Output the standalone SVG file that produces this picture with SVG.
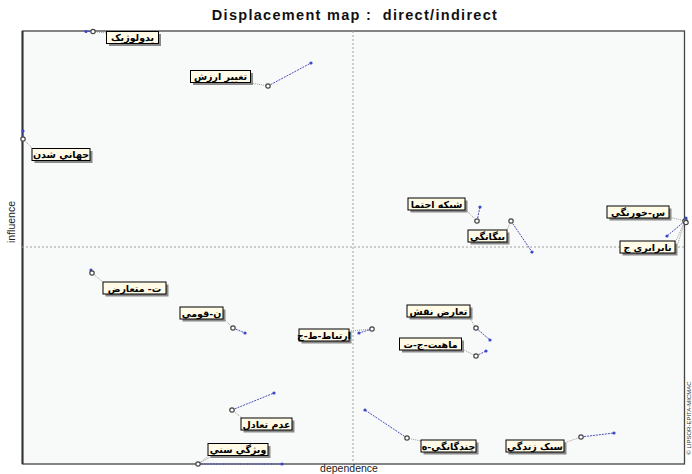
<svg xmlns="http://www.w3.org/2000/svg" width="692" height="474" viewBox="0 0 692 474">
<style>
.title{font-family:"Liberation Sans",Arial,sans-serif;font-size:14.5px;font-weight:bold;fill:#111;letter-spacing:1.3px;white-space:pre}
.axis{font-family:"Liberation Sans",Arial,sans-serif;font-size:10.5px;fill:#222}
.copy{font-family:"Liberation Sans",Arial,sans-serif;font-size:6px;fill:#333}
.lbl{font-family:"DejaVu Sans","Noto Sans",sans-serif;font-size:9.5px;font-weight:bold;fill:#000;text-anchor:middle;direction:rtl}
.box{fill:#fffbe6;stroke:#000;stroke-width:1}
.sh{fill:#8a8a8a}
.mv{stroke:#4a4fc0;stroke-width:1;stroke-dasharray:2,1;fill:none}
.ld{stroke:#9a9a9a;stroke-width:1;stroke-dasharray:1,1;fill:none}
.pt{fill:#fff;stroke:#444;stroke-width:1.2}
.dt{fill:#3b46c8}
.grid{stroke:#a0a0a0;stroke-width:1;stroke-dasharray:2,2;fill:none}
</style>
<rect x="0" y="0" width="692" height="474" fill="#ffffff"/>
<text class="title" x="355" y="20" text-anchor="middle" xml:space="preserve">Displacement map :  direct/indirect</text>
<rect x="22.5" y="31" width="662" height="433" fill="#f8f9f9" stroke="#444" stroke-width="1.3"/>
<line x1="22.5" y1="31" x2="22.5" y2="464" stroke="#333" stroke-width="2"/>
<line class="grid" x1="353" y1="31" x2="353" y2="464"/>
<line class="grid" x1="22" y1="247" x2="685" y2="247"/>
<text class="axis" transform="translate(15,222) rotate(-90)" text-anchor="middle">influence</text>
<text class="axis" x="349" y="472" text-anchor="middle">dependence</text>
<text class="copy" transform="translate(691,418) rotate(-90)" text-anchor="middle">© LIPSOR-EPITA-MICMAC</text>

<g id="connectors">
<line class="mv" x1="93" y1="31.5" x2="86" y2="31.5"/>
<line class="ld" x1="93" y1="31.5" x2="106" y2="33"/>
<line class="mv" x1="268" y1="86" x2="311" y2="63"/>
<line class="ld" x1="268" y1="86" x2="251" y2="83"/>
<line class="mv" x1="23" y1="139" x2="23" y2="131"/>
<line class="ld" x1="23" y1="139" x2="32" y2="148"/>
<line class="mv" x1="477" y1="221" x2="480" y2="207"/>
<line class="ld" x1="477" y1="221" x2="466" y2="210"/>
<line class="mv" x1="511" y1="221" x2="532" y2="252"/>
<line class="ld" x1="511" y1="221" x2="507" y2="230"/>
<line class="mv" x1="685" y1="221" x2="667" y2="236"/>
<line class="ld" x1="685" y1="221" x2="669" y2="217"/>
<line class="mv" x1="686" y1="222" x2="686" y2="218"/>
<line class="ld" x1="685" y1="221" x2="675" y2="243"/>
<line class="ld" x1="685" y1="221" x2="678" y2="243"/>
<line class="mv" x1="92" y1="273" x2="91" y2="270"/>
<line class="ld" x1="92" y1="273" x2="103" y2="282"/>
<line class="mv" x1="233" y1="328" x2="245" y2="333"/>
<line class="ld" x1="233" y1="328" x2="224" y2="319"/>
<line class="mv" x1="372" y1="329" x2="359" y2="333"/>
<line class="ld" x1="372" y1="329" x2="350" y2="331"/>
<line class="mv" x1="476" y1="328" x2="490" y2="340"/>
<line class="ld" x1="476" y1="328" x2="469" y2="317"/>
<line class="mv" x1="476" y1="356" x2="486" y2="351"/>
<line class="ld" x1="476" y1="356" x2="462" y2="349"/>
<line class="mv" x1="232" y1="410" x2="274" y2="393"/>
<line class="ld" x1="232" y1="410" x2="242" y2="418"/>
<line class="mv" x1="198" y1="464" x2="282" y2="464"/>
<line class="ld" x1="198" y1="464" x2="210" y2="455"/>
<line class="ld" x1="198" y1="464" x2="214" y2="455"/>
<line class="mv" x1="407" y1="438" x2="365" y2="410"/>
<line class="ld" x1="407" y1="438" x2="421" y2="441"/>
<line class="mv" x1="581" y1="437" x2="614" y2="433"/>
<line class="ld" x1="581" y1="437" x2="564" y2="443"/>
</g>

<g id="n1"><circle class="dt" cx="86" cy="31.5" r="1.6"/><circle class="pt" cx="93" cy="31.5" r="2.2"/><rect class="sh" x="109" y="34" width="52" height="12"/><rect class="box" x="106.5" y="31.5" width="52" height="12"/><text class="lbl" x="132.5" y="41">يدولوژيک</text></g>
<g id="n2"><circle class="dt" cx="311" cy="63" r="1.6"/><circle class="pt" cx="268" cy="86" r="2.2"/><rect class="sh" x="193" y="73" width="60" height="12"/><rect class="box" x="190.5" y="70.5" width="60" height="12"/><text class="lbl" x="220.5" y="80">تغيير ارزش</text></g>
<g id="n3"><circle class="dt" cx="23" cy="131" r="1.6"/><circle class="pt" cx="23" cy="139" r="2.2"/><rect class="sh" x="34.5" y="151" width="58" height="12"/><rect class="box" x="32" y="148.5" width="58" height="12"/><text class="lbl" x="61" y="158">جهاني شدن</text></g>
<g id="n4"><circle class="dt" cx="480" cy="207" r="1.6"/><circle class="pt" cx="477" cy="221" r="2.2"/><rect class="sh" x="410.5" y="200.5" width="57" height="12"/><rect class="box" x="408" y="198" width="57" height="12"/><text class="lbl" x="436.5" y="207.5">شبکه اجتما</text></g>
<g id="n5"><circle class="dt" cx="532" cy="252" r="1.6"/><circle class="pt" cx="511" cy="221" r="2.2"/><rect class="sh" x="470.5" y="232.5" width="39" height="12"/><rect class="box" x="468" y="230" width="39" height="12"/><text class="lbl" x="487.5" y="239.5">بيگانگي</text></g>
<g id="n6"><circle class="dt" cx="667" cy="236" r="1.6"/><circle class="pt" cx="685" cy="221" r="2.2"/><rect class="sh" x="609.5" y="208.5" width="62" height="12"/><rect class="box" x="607" y="206" width="62" height="12"/><text class="lbl" x="638" y="215.5">س-خورنگي</text></g>
<g id="n7"><circle class="dt" cx="686" cy="218" r="1.6"/><circle class="pt" cx="686" cy="222.5" r="2.2"/><rect class="sh" x="622.5" y="243.5" width="55" height="12"/><rect class="box" x="620" y="241" width="55" height="12"/><text class="lbl" x="647.5" y="250.5">نابرابري ج</text></g>
<g id="n8"><circle class="dt" cx="91" cy="270" r="1.6"/><circle class="pt" cx="92" cy="273" r="2.2"/><rect class="sh" x="105.5" y="284.5" width="63" height="12"/><rect class="box" x="103" y="282" width="63" height="12"/><text class="lbl" x="134.5" y="291.5">ت- متعارض</text></g>
<g id="n9"><circle class="dt" cx="245" cy="333" r="1.6"/><circle class="pt" cx="233" cy="328" r="2.2"/><rect class="sh" x="182.5" y="309.5" width="43" height="12"/><rect class="box" x="180" y="307" width="43" height="12"/><text class="lbl" x="201.5" y="316.5">ن-قومي</text></g>
<g id="n10"><circle class="dt" cx="359" cy="333" r="1.6"/><circle class="pt" cx="372" cy="329" r="2.2"/><rect class="sh" x="301.5" y="331.5" width="50" height="12"/><rect class="box" x="299" y="329" width="50" height="12"/><text class="lbl" x="324" y="338.5">ارتباط-ط-ج</text></g>
<g id="n11"><circle class="dt" cx="490" cy="340" r="1.6"/><circle class="pt" cx="476" cy="328" r="2.2"/><rect class="sh" x="409.5" y="307.5" width="63" height="12"/><rect class="box" x="407" y="305" width="63" height="12"/><text class="lbl" x="438.5" y="314.5">تعارض نقش</text></g>
<g id="n12"><circle class="dt" cx="486" cy="351" r="1.6"/><circle class="pt" cx="476" cy="356" r="2.2"/><rect class="sh" x="402" y="340.5" width="62" height="12"/><rect class="box" x="399.5" y="338" width="62" height="12"/><text class="lbl" x="430.5" y="347.5">ماهيت-ج-ت</text></g>
<g id="n13"><circle class="dt" cx="274" cy="393" r="1.6"/><circle class="pt" cx="232" cy="410" r="2.2"/><rect class="sh" x="243.5" y="420.5" width="51" height="12"/><rect class="box" x="241" y="418" width="51" height="12"/><text class="lbl" x="266.5" y="427.5">عدم تعادل</text></g>
<g id="n14"><circle class="dt" cx="282" cy="464" r="1.6"/><circle class="pt" cx="198" cy="464" r="2.2"/><rect class="sh" x="210.5" y="446" width="60" height="12"/><rect class="box" x="208" y="443.5" width="60" height="12"/><text class="lbl" x="238" y="453">ويژگي سني</text></g>
<g id="n15"><circle class="dt" cx="365" cy="410" r="1.6"/><circle class="pt" cx="407" cy="438" r="2.2"/><rect class="sh" x="423.5" y="442.5" width="55" height="12"/><rect class="box" x="421" y="440" width="55" height="12"/><text class="lbl" x="448.5" y="449.5">چندگانگي-ه</text></g>
<g id="n16"><circle class="dt" cx="614" cy="433" r="1.6"/><circle class="pt" cx="581" cy="437" r="2.2"/><rect class="sh" x="508.5" y="442.5" width="58" height="12"/><rect class="box" x="506" y="440" width="58" height="12"/><text class="lbl" x="535" y="449.5">سبک زندگي</text></g>
</svg>
